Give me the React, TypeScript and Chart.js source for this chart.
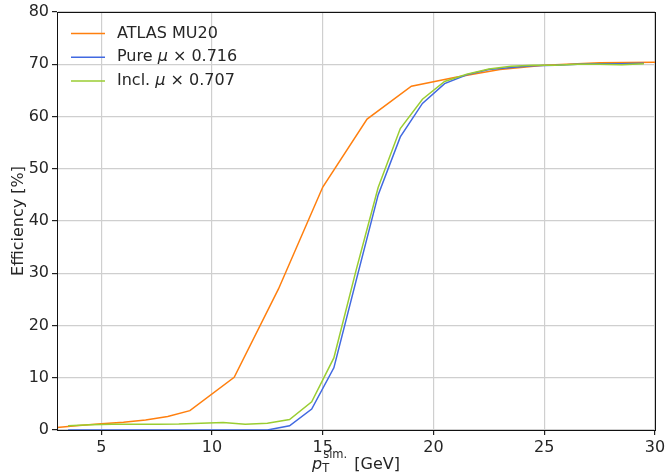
import React, { useEffect, useRef } from "react";
import { Chart, registerables } from "chart.js";
Chart.register(...registerables);

const atlasX = [3, 4, 5, 6, 7, 8, 9, 11, 13, 15, 17, 19, 21, 23, 25, 27.5, 30];
const atlasY = [0.5, 0.85, 1.2, 1.5, 1.9, 2.6, 3.7, 10.1, 27, 46.5, 59.5, 65.8, 67.5, 69.0, 69.8, 70.3, 70.4];

const simX = [3.5, 4.5, 5.5, 6.5, 7.5, 8.5, 9.5, 10.5, 11.5, 12.5, 13.5, 14.5, 15.5, 16.5, 17.5, 18.5, 19.5, 20.5, 21.5, 22.5, 23.5, 24.5, 25.5, 26.5, 27.5, 28.5, 29.5];
const pureY = [0, 0, 0, 0, 0, 0, 0, 0, 0, 0, 0.8, 4.0, 11.9, 28.5, 45.0, 56.1, 62.5, 66.3, 68.0, 69.0, 69.4, 69.7, 69.8, 70.0, 70.1, 70.1, 70.2];
const inclY = [0.8, 1.0, 1.1, 1.1, 1.1, 1.15, 1.3, 1.45, 1.1, 1.3, 2.0, 5.4, 13.8, 30.5, 46.4, 57.7, 63.3, 66.7, 68.1, 69.1, 69.6, 69.8, 69.8, 70.0, 70.0, 69.9, 70.1];

const xTicks = [5, 10, 15, 20, 25, 30];
const yTicks = [0, 10, 20, 30, 40, 50, 60, 70, 80];

const seriesNames = ["ATLAS MU20", "Pure", "Incl."];
const seriesFactors = ["", "0.716", "0.707"];
const seriesColors = ["#ff7f0e", "#4169e1", "#9acd32"];

const FONT = '"DejaVu Sans", sans-serif';
const TEXT = "#262626";

const overlay = {
  id: "overlay",
  afterDraw(chart: any) {
    const ctx = chart.ctx as CanvasRenderingContext2D;
    const a = chart.chartArea;
    ctx.save();
    // frame
    ctx.strokeStyle = "#111";
    ctx.lineWidth = 1;
    ctx.strokeRect(Math.round(a.left) + 0.5, Math.round(a.top) + 0.5, Math.round(a.right - a.left), Math.round(a.bottom - a.top));

    // legend
    ctx.textBaseline = "middle";
    ctx.textAlign = "left";
    const lx0 = a.left + 14;
    const lx1 = a.left + 48;
    const tx = a.left + 60;
    for (let i = 0; i < seriesNames.length; i++) {
      const y = a.top + 21.5 + i * 23.7;
      ctx.strokeStyle = seriesColors[i];
      ctx.lineWidth = 1.5;
      ctx.beginPath();
      ctx.moveTo(lx0, y);
      ctx.lineTo(lx1, y);
      ctx.stroke();
      ctx.fillStyle = TEXT;
      let x = tx;
      if (seriesFactors[i] === "") {
        ctx.font = `16px ${FONT}`;
        ctx.fillText(seriesNames[i], x, y);
      } else {
        ctx.font = `16px ${FONT}`;
        const s1 = seriesNames[i] + " ";
        ctx.fillText(s1, x, y);
        x += ctx.measureText(s1).width;
        ctx.font = `italic 16px ${FONT}`;
        ctx.fillText("\u03bc", x, y);
        x += ctx.measureText("\u03bc").width;
        ctx.font = `16px ${FONT}`;
        ctx.fillText(" \u00d7 " + seriesFactors[i], x, y);
      }
    }

    // x title: p_T^{sim.} [GeV]
    ctx.textBaseline = "alphabetic";
    ctx.fillStyle = TEXT;
    const base = 469;
    const pf = `italic 16px ${FONT}`;
    const sf = `11.5px ${FONT}`;
    const nf = `16px ${FONT}`;
    ctx.font = pf;
    const wp = ctx.measureText("p").width;
    ctx.font = sf;
    const wsup = ctx.measureText("sim.").width;
    ctx.font = nf;
    const wg = ctx.measureText(" [GeV]").width;
    const gap = 2;
    const total = wp + wsup + 1 + gap + wg;
    let x = (a.left + a.right) / 2 - total / 2;
    ctx.font = pf;
    ctx.fillText("p", x, base);
    x += wp;
    ctx.font = sf;
    ctx.fillText("T", x, base + 3);
    ctx.fillText("sim.", x + 1, base - 11);
    x += wsup + 1 + gap;
    ctx.font = nf;
    ctx.fillText(" [GeV]", x, base);

    // y title
    ctx.save();
    ctx.translate(19, (a.top + a.bottom) / 2);
    ctx.rotate(-Math.PI / 2);
    ctx.textAlign = "center";
    ctx.textBaseline = "middle";
    ctx.font = `16px ${FONT}`;
    ctx.fillText("Efficiency [%]", 0, 0);
    ctx.restore();

    ctx.restore();
  },
};

export default function App() {
  const ref = useRef<HTMLCanvasElement | null>(null);
  useEffect(() => {
    if (!ref.current) return;
    const mk = (xs: number[], ys: number[]) => xs.map((x, i) => ({ x, y: ys[i] }));
    const chart = new Chart(ref.current, {
      type: "line",
      data: {
        datasets: [
          { label: seriesNames[0], data: mk(atlasX, atlasY), borderColor: seriesColors[0], borderWidth: 1.5, pointRadius: 0, tension: 0, order: 2 },
          { label: seriesNames[1], data: mk(simX, pureY), borderColor: seriesColors[1], borderWidth: 1.5, pointRadius: 0, tension: 0, order: 1 },
          { label: seriesNames[2], data: mk(simX, inclY), borderColor: seriesColors[2], borderWidth: 1.5, pointRadius: 0, tension: 0, order: 0 },
        ],
      },
      options: {
        animation: false,
        responsive: false,
        layout: { padding: { top: 12, right: 10, left: 0, bottom: 0 } },
        plugins: { legend: { display: false }, tooltip: { enabled: false } },
        scales: {
          x: {
            type: "linear",
            min: 3,
            max: 30,
            afterBuildTicks: (s: any) => {
              s.ticks = xTicks.map((v) => ({ value: v }));
            },
            afterFit: (s: any) => {
              s.height = 46;
              s.paddingRight = 0;
              s.paddingLeft = 0;
            },
            grid: { color: "#cfcfcf", lineWidth: 1.2, tickColor: "#222", tickLength: 5, drawTicks: true },
            border: { display: true, color: "#111", width: 1 },
            ticks: { color: TEXT, font: { family: FONT, size: 16 }, padding: 3, maxRotation: 0, autoSkip: false },
          },
          y: {
            type: "linear",
            min: 0,
            max: 80,
            afterBuildTicks: (s: any) => {
              s.ticks = yTicks.map((v) => ({ value: v }));
            },
            afterFit: (s: any) => {
              s.width = 57;
              s.paddingTop = 0;
              s.paddingBottom = 0;
            },
            grid: { color: "#cfcfcf", lineWidth: 1.2, tickColor: "#222", tickLength: 5, drawTicks: true },
            border: { display: true, color: "#111", width: 1 },
            ticks: { color: TEXT, font: { family: FONT, size: 16 }, padding: 3, autoSkip: false },
          },
        },
      },
      plugins: [overlay],
    });
    return () => chart.destroy();
  }, []);
  return (
    <div style={{ position: "absolute", left: 0, top: 0, width: 665, height: 476, background: "#fff" }}>
      <canvas ref={ref} width={665} height={476} style={{ display: "block" }} />
    </div>
  );
}
